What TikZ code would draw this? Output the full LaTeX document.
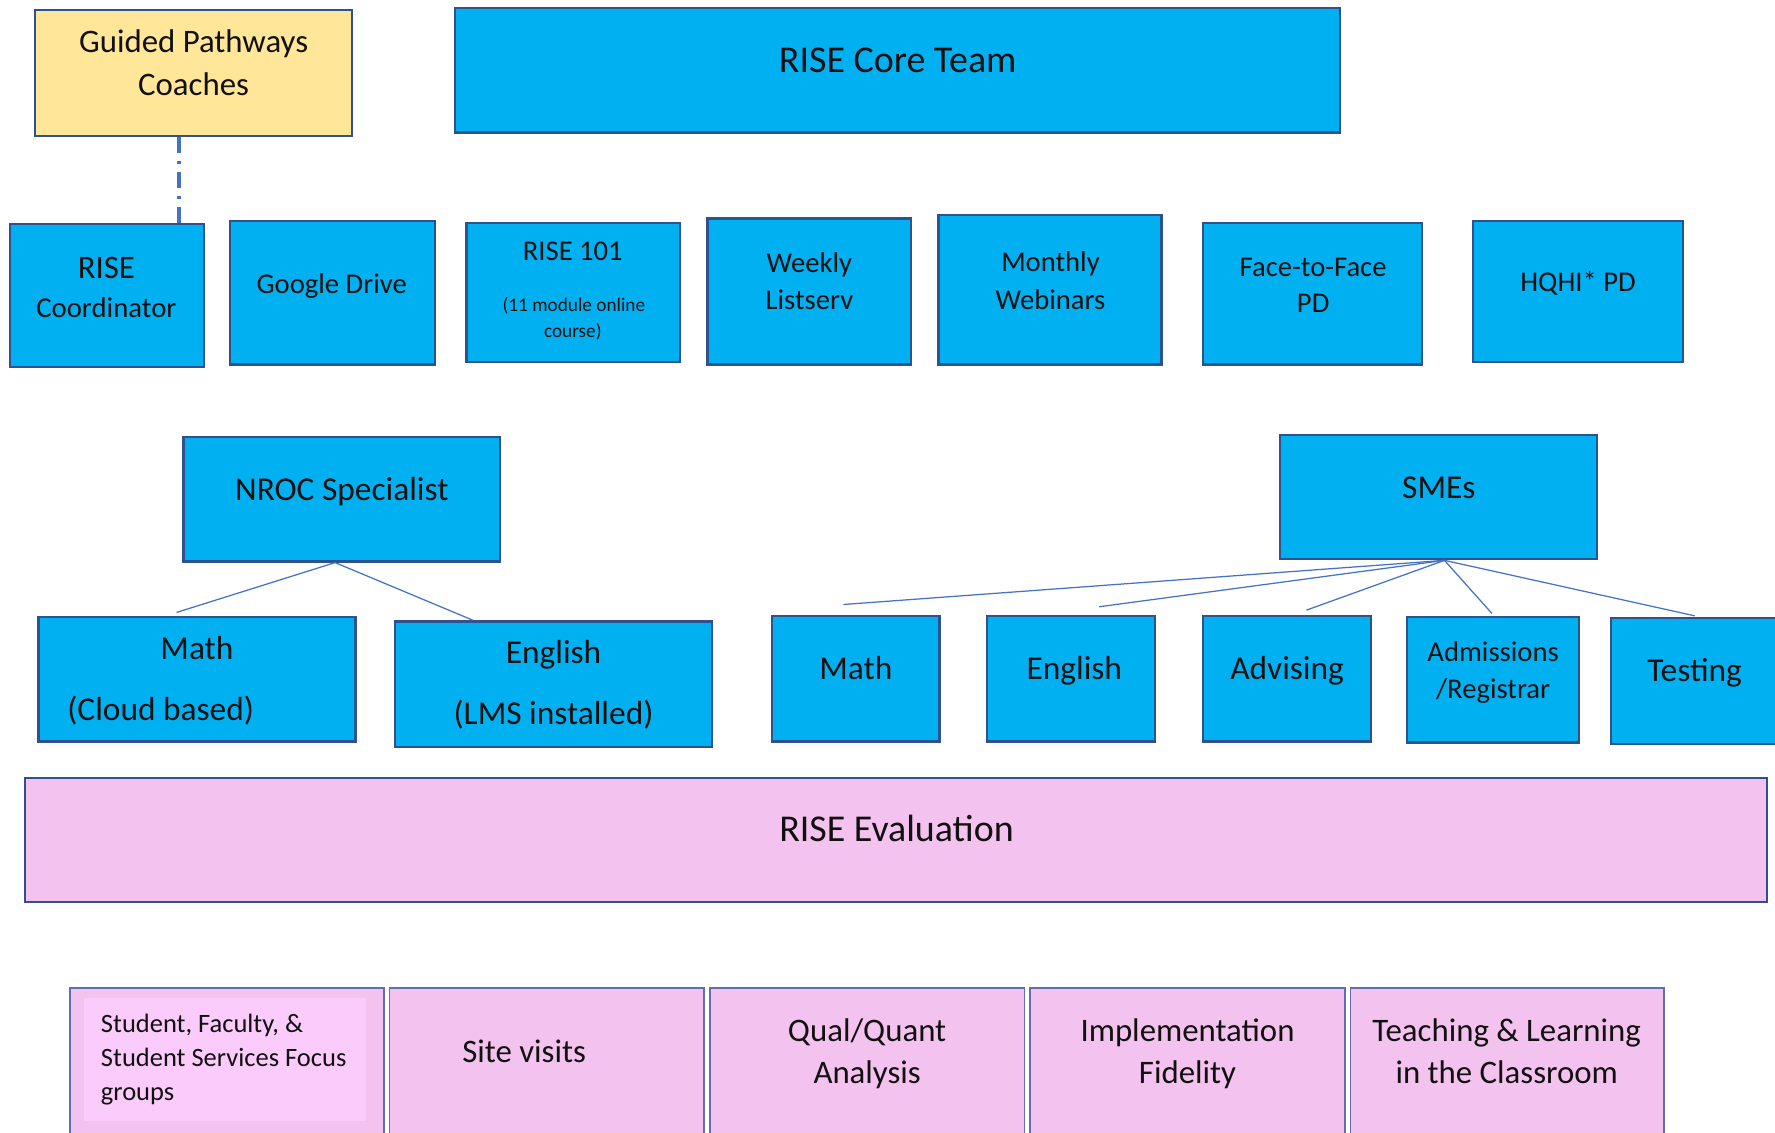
\documentclass[tikz,border=0pt]{standalone}
\usepackage{fontspec}
\setmainfont{Carlito}
\usetikzlibrary{fit}
\definecolor{boxblue}{HTML}{00B0F0}
\definecolor{edgeblue}{HTML}{2F528F}
\definecolor{gpyellow}{HTML}{FFE699}
\definecolor{evpink}{HTML}{F4C2EE}
\definecolor{fgpink}{HTML}{FBCBFB}
\definecolor{linkblue}{HTML}{4472C4}
\definecolor{pinkedge}{HTML}{5F6FAF}
\definecolor{ink}{HTML}{111111}
% one text line: name, x, y (visual centre), size, text
\newcommand\tline[5]{\node[txt,font=\fontsize{#4}{#4}\selectfont,anchor=base] (#1) at ({#2},{#3+0.32*#4}) {#5};}
\newcommand\tlinel[5]{\node[txt,font=\fontsize{#4}{#4}\selectfont,anchor=base west] (#1) at ({#2},{#3+0.32*#4}) {#5};}
\begin{document}
\begin{tikzpicture}[x=1pt,y=-1pt,
  bluebox/.style={draw=edgeblue,line width=2pt,fill=boxblue,inner sep=0pt},
  yellowbox/.style={draw=edgeblue,line width=2pt,fill=gpyellow,inner sep=0pt},
  evalbox/.style={draw=edgeblue,line width=1.8pt,fill=evpink,inner sep=0pt},
  subbox/.style={draw=pinkedge,line width=1.4pt,fill=evpink,inner sep=0pt},
  innerbox/.style={fill=fgpink,inner sep=0pt},
  txt/.style={text=ink,inner sep=0pt},
  link/.style={draw=linkblue,line width=1.1pt},
  dashlink/.style={draw=linkblue,line width=3pt,dash pattern=on 14pt off 7pt on 3pt off 7pt}]
\clip (0,0) rectangle (1568,1000);
\fill[white] (0,0) rectangle (1568,1000);

% boxes
\node[yellowbox,fit={(31,9) (311,120)}] (gp) {};
\node[bluebox,fit={(402,7) (1184,117)}] (core) {};
\node[bluebox,fit={(9,198) (180,324)}] (coord) {};
\node[bluebox,fit={(203,195) (384,322)}] (gdrive) {};
\node[bluebox,fit={(412,197) (601,320)}] (r101) {};
\node[bluebox,fit={(625,193) (805,322)}] (weekly) {};
\node[bluebox,fit={(829,190) (1026,322)}] (monthly) {};
\node[bluebox,fit={(1063,197) (1256,322)}] (f2f) {};
\node[bluebox,fit={(1301,195) (1487,320)}] (hqhi) {};
\node[bluebox,fit={(162,386) (442,496)}] (nroc) {};
\node[bluebox,fit={(1131,384) (1411,494)}] (sme) {};
\node[bluebox,fit={(34,545) (314,655)}] (nmath) {};
\node[bluebox,fit={(349,549) (629,660)}] (neng) {};
\node[bluebox,fit={(682,544) (830,655)}] (smath) {};
\node[bluebox,fit={(872,544) (1020,655)}] (seng) {};
\node[bluebox,fit={(1063,544) (1211,655)}] (sadv) {};
\node[bluebox,fit={(1243,545) (1395,656)}] (sadm) {};
\node[bluebox,fit={(1423,546) (1580,657)}] (stest) {};
\node[evalbox,fit={(22,687) (1561,797)}] (eval) {};
\node[subbox,fit={(62,873) (339,1010)}] (focus) {};
\node[innerbox,fit={(74,882) (323,990)}] (focusin) {};
\node[subbox,fit={(344,873) (622,1010)}] (site) {};
\node[subbox,fit={(627,873) (905,1010)}] (qual) {};
\node[subbox,fit={(910,873) (1188,1010)}] (impl) {};
\node[subbox,fit={(1193,873) (1470,1010)}] (teach) {};

% texts
\tline{t-gp1}{171}{37}{29}{Guided Pathways}
\tline{t-gp2}{171}{75}{29}{Coaches}
\tline{t-core}{793}{53}{33.5}{RISE Core Team}
\tline{t-co1}{94}{237}{29}{RISE}
\tline{t-co2}{94}{272}{25.4}{Coordinator}
\tline{t-gd}{293}{251}{25.3}{Google Drive}
\tline{t-r1}{506}{222}{25.3}{RISE 101}
\tline{t-r2}{507}{270}{17}{(11 module online}
\tline{t-r3}{506}{293}{17}{course)}
\tline{t-w1}{715}{233}{25.3}{Weekly}
\tline{t-w2}{715}{265}{25.3}{Listserv}
\tline{t-m1}{928}{232}{25.3}{Monthly}
\tline{t-m2}{928}{265}{25.3}{Webinars}
\tline{t-f1}{1160}{236}{25.3}{Face-to-Face}
\tline{t-f2}{1160}{268}{25.3}{PD}
\tline{t-hq}{1394}{249}{25.3}{HQHI* PD}
\tline{t-nroc}{302}{433}{29.5}{NROC Specialist}
\tline{t-sme}{1271}{431}{29.5}{SMEs}
\tline{t-nm1}{174}{573}{29.5}{Math}
\tline{t-nm2}{142}{627}{29.5}{(Cloud based)}
\tline{t-ne1}{489}{577}{29.5}{English}
\tline{t-ne2}{489}{631}{29.5}{(LMS installed)}
\tline{t-sm}{756}{591}{29.5}{Math}
\tline{t-se}{949}{591}{29.5}{English}
\tline{t-sa}{1137}{591}{29.5}{Advising}
\tline{t-sd1}{1319}{576}{25.3}{Admissions}
\tline{t-sd2}{1319}{609}{25.3}{/Registrar}
\tline{t-st}{1497}{593}{29.5}{Testing}
\tline{t-ev}{792}{733}{33.5}{RISE Evaluation}
\tlinel{t-fo1}{89}{905}{23.4}{Student, Faculty, \&}
\tlinel{t-fo2}{89}{935}{23.4}{Student Services Focus}
\tlinel{t-fo3}{89}{965}{23.4}{groups}
\tline{t-site}{463}{929}{29}{Site visits}
\tline{t-q1}{766}{911}{29}{Qual/Quant}
\tline{t-q2}{766}{948}{29}{Analysis}
\tline{t-i1}{1049}{911}{29}{Implementation}
\tline{t-i2}{1049}{948}{29}{Fidelity}
\tline{t-t1}{1331}{911}{29}{Teaching \& Learning}
\tline{t-t2}{1331}{948}{29}{in the Classroom}

% connectors
\draw[dashlink] (158,0 |- gp.south) -- (158,0 |- coord.north);
\coordinate (nroc-top) at (296,0 |- nroc.south);
\coordinate (nm-end) at (156,541);
\coordinate (ne-end) at (418,548);
\draw[link] (nroc-top) -- (nm-end);
\draw[link] (nroc-top) -- (ne-end);
\coordinate (sme-top) at (1276,0 |- sme.south);
\coordinate (sm-end) at (745,534);
\coordinate (se-end) at (971,536);
\coordinate (sa-end) at (1154,539);
\coordinate (sd-end) at (1318,542);
\coordinate (st-end) at (1497,544);
\foreach \e in {sm-end,se-end,sa-end,sd-end,st-end}
  \draw[link] (sme-top) -- (\e);
\end{tikzpicture}
\end{document}
